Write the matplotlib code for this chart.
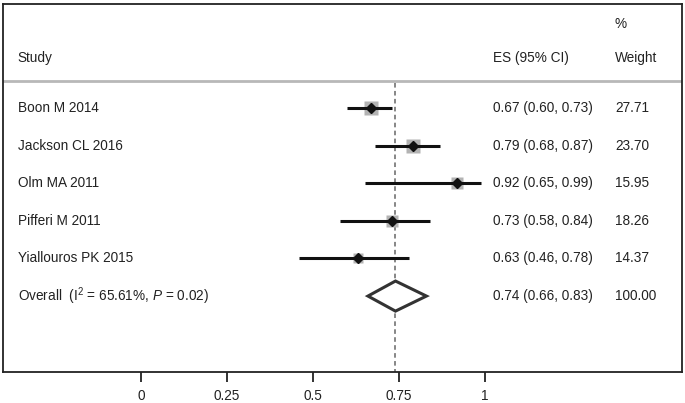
import numpy as np
import matplotlib
matplotlib.use("Agg")
import matplotlib.pyplot as plt

# data
studies = ["Boon M 2014", "Jackson CL 2016", "Olm MA 2011", "Pifferi M 2011", "Yiallouros PK 2015"]
es = [0.67, 0.79, 0.92, 0.73, 0.63]
lo = [0.60, 0.68, 0.65, 0.58, 0.46]
hi = [0.73, 0.87, 0.99, 0.84, 0.78]
weights = [27.71, 23.70, 15.95, 18.26, 14.37]
overall = (0.74, 0.66, 0.83)
i2 = 65.61
p_val = 0.02
xticks = [0, 0.25, 0.5, 0.75, 1]

plt.rcParams['font.family'] = ['Liberation Sans', 'DejaVu Sans']
plt.rcParams['mathtext.fontset'] = 'custom'
plt.rcParams['mathtext.rm'] = 'Liberation Sans'
plt.rcParams['mathtext.it'] = 'Liberation Sans:italic'

fig = plt.figure(figsize=(6.85, 4.03), dpi=100)
ax = fig.add_axes([3/685, 31/403, 679/685, 368/403])
ax.set_xlim(-0.401, 1.573)
ax.set_ylim(7.02, -2.77)

txt = dict(fontsize=9.8, color='#222222', va='center')
col_study, col_es, col_w = -0.358, 1.023, 1.378

# header
ax.text(col_w, -2.25, "%", **txt)
ax.text(col_study, -1.33, "Study", **txt)
ax.text(col_es, -1.33, "ES (95% CI)", **txt)
ax.text(col_w, -1.33, "Weight", **txt)
ax.axhline(-0.72, color='#b8b8b8', lw=2)

# reference line at overall
ax.plot([overall[0], overall[0]], [-0.68, 7.02], ls=(0, (3, 2.2)), color='#666666', lw=1.1, zorder=1)

rows = np.arange(len(studies))
for i, (s, e, l, h, w) in enumerate(zip(studies, es, lo, hi, weights)):
    ax.plot(e, rows[i], marker='s', ms=10.5 * np.sqrt(w / max(weights)), color='#b3b3b3',
            mec='none', zorder=2)
    ax.plot([l, h], [rows[i], rows[i]], color='#111111', lw=2.2, solid_capstyle='butt', zorder=3)
    ax.plot(e, rows[i], marker='D', ms=5.5, color='#111111', zorder=4)
    ax.text(col_study, rows[i], s, **txt)
    ax.text(col_es, rows[i], f"{e:.2f} ({l:.2f}, {h:.2f})", **txt)
    ax.text(col_w, rows[i], f"{w:.2f}", **txt)

# overall diamond
yo = len(studies)
e, l, h = overall
ax.fill([l, e, h, e, l], [yo, yo - 0.4, yo, yo + 0.4, yo], facecolor='white',
        edgecolor='#333333', lw=2.2, zorder=3, joinstyle='miter')
ax.text(col_study, yo, f"Overall  (I$^2$ = {i2:.2f}%, $P$ = {p_val:.2f})", **txt)
ax.text(col_es, yo, f"{e:.2f} ({l:.2f}, {h:.2f})", **txt)
ax.text(col_w, yo, "100.00", **txt)

# axes
for sp in ax.spines.values():
    sp.set_color('#222222')
    sp.set_linewidth(1.3)
ax.set_yticks([])
ax.set_xticks(xticks)
ax.set_xticklabels(["0", "0.25", "0.5", "0.75", "1"])
ax.tick_params(axis='x', length=7, width=1.3, pad=5, labelsize=9.8, colors='#222222')

fig.savefig("out.png", dpi=100)
